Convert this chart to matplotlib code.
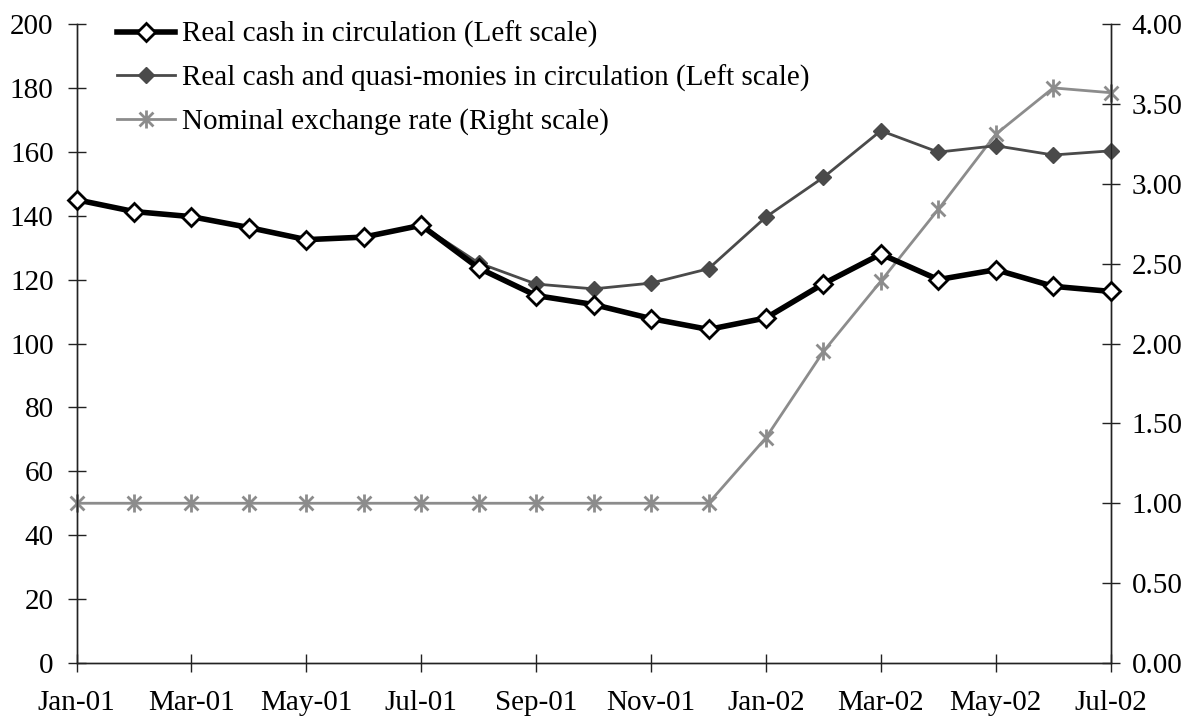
import numpy as np
import matplotlib
matplotlib.use("Agg")
import matplotlib.pyplot as plt
from matplotlib.path import Path

plt.rcParams["font.family"] = ["Liberation Serif", "DejaVu Serif"]

months = ["Jan-01", "Feb-01", "Mar-01", "Apr-01", "May-01", "Jun-01", "Jul-01",
          "Aug-01", "Sep-01", "Oct-01", "Nov-01", "Dec-01", "Jan-02", "Feb-02",
          "Mar-02", "Apr-02", "May-02", "Jun-02", "Jul-02"]

real_cash = [145.0, 141.3, 139.7, 136.3, 132.5, 133.3, 137.0, 123.6, 115.0, 112.2,
             107.8, 104.4, 108.0, 118.7, 128.0, 120.0, 123.1, 117.9, 116.3]
real_cash_quasi = [145.0, 141.3, 139.7, 136.3, 132.5, 133.3, 137.0, 125.2, 118.6, 117.1,
                   118.9, 123.4, 139.6, 152.0, 166.6, 159.9, 161.9, 159.0, 160.3]
exchange_rate = [1.00, 1.00, 1.00, 1.00, 1.00, 1.00, 1.00, 1.00, 1.00, 1.00,
                 1.00, 1.00, 1.41, 1.95, 2.39, 2.84, 3.31, 3.60, 3.57]

# asterisk marker: x plus a vertical bar
star_path = Path(
    [(-1, -1), (1, 1), (-1, 1), (1, -1), (0, -1.3), (0, 1.3)],
    [Path.MOVETO, Path.LINETO, Path.MOVETO, Path.LINETO, Path.MOVETO, Path.LINETO],
)

x = np.arange(len(months))
W, H = 1193, 727
left, right, top, bottom = 76.5, 1110.7, 24, 663

fig = plt.figure(figsize=(W / 100, H / 100), dpi=100)
ax = fig.add_axes([left / W, 1 - bottom / H, (right - left) / W, (bottom - top) / H])
ax2 = ax.twinx()

l2, = ax.plot(x, real_cash_quasi, color="#4a4a4a", lw=2, marker="D", ms=8,
              mfc="#4a4a4a", mec="#4a4a4a", zorder=2, clip_on=False,
              label="Real cash and quasi-monies in circulation (Left scale)")
l1, = ax.plot(x, real_cash, color="black", lw=4, marker="D", ms=9.5,
              mfc="white", mec="black", mew=2, zorder=3, clip_on=False,
              label="Real cash in circulation (Left scale)")
l3, = ax2.plot(x, exchange_rate, color="#8c8c8c", lw=2, marker=star_path, ms=13,
               mfc="none", mec="#8c8c8c", mew=2, clip_on=False,
               label="Nominal exchange rate (Right scale)")

ax.set_zorder(ax2.get_zorder() + 1)
ax.patch.set_visible(False)

ax.set_xlim(0, 18)
ax.set_ylim(0, 200)
ax2.set_ylim(0, 4)
ax.set_yticks(np.arange(0, 201, 20))
ax2.set_yticks(np.arange(0, 4.01, 0.5))
ax2.set_yticklabels([f"{v:.2f}" for v in np.arange(0, 4.01, 0.5)])
ax.set_xticks(x[::2])
ax.set_xticklabels(months[::2])

for a in (ax, ax2):
    a.spines["top"].set_visible(False)
    for s in a.spines.values():
        s.set_linewidth(1)
        s.set_color("#222222")
    a.tick_params(labelsize=21, direction="inout", length=13, width=1, color="#222222")
ax.tick_params(axis="x", pad=13)
ax.tick_params(axis="y", pad=10)
ax2.tick_params(axis="y", pad=8.5)

ax.legend(handles=[l1, l2, l3], loc="upper left", bbox_to_anchor=(117 / W, 1 - 21 / H),
          bbox_transform=fig.transFigure, frameon=False, fontsize=21,
          handlelength=2.0, handletextpad=0.24, labelspacing=0.56,
          borderpad=0, borderaxespad=0)

fig.savefig("out.png", dpi=100)
